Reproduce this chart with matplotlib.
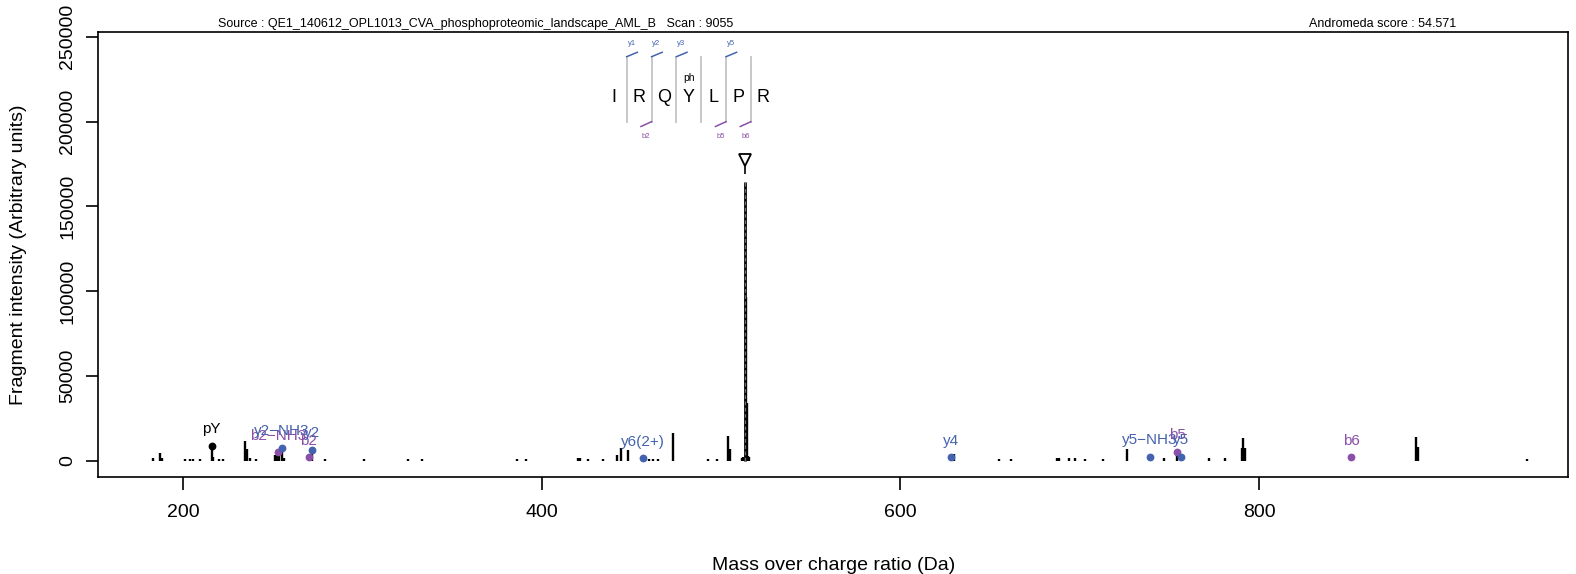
import matplotlib
matplotlib.use("Agg")
import matplotlib.pyplot as plt
from matplotlib.lines import Line2D

plt.rcParams['font.family'] = ['Liberation Sans', 'DejaVu Sans']

# pics non annotés (m/z, intensité)
peak_mz = [183.4, 187.2, 188.3, 201.1, 203.9, 205.7, 209.5, 216.9, 220.1, 222.5,
           234.6, 235.5, 237.4, 240.7, 251.3, 252.4, 253.5, 256.5, 279.2, 301.1,
           325.6, 333.1, 386.1, 391.1, 420.4, 421.4, 426.0, 434.0, 441.8, 444.1,
           448.3, 460.0, 461.9, 465.1, 473.4, 493.0, 498.0, 504.1, 505.0, 511.5,
           512.4, 513.8, 514.4, 515.2, 515.7, 629.9, 655.2, 661.5, 687.2, 688.5,
           694.2, 697.4, 703.0, 713.2, 726.3, 747.0, 772.3, 781.0, 790.4, 791.3,
           792.3, 887.6, 888.5, 949.3]
peak_int = [1500, 4500, 1500, 1200, 1200, 1000, 1200, 2000, 1200, 1200,
            11800, 7000, 1500, 1200, 3500, 3500, 3000, 1800, 1200, 1200,
            1200, 1200, 1200, 1200, 1300, 1300, 1200, 1200, 3500, 7500,
            6500, 1200, 1200, 1200, 16100, 1200, 1200, 14800, 7000, 1500,
            2000, 96700, 33800, 2500, 2000, 4000, 1200, 1200, 1500, 1500,
            1300, 1300, 1200, 1200, 6900, 1500, 1500, 1700, 7500, 13200,
            7500, 14200, 8000, 1200]

# ions annotés
ion_labels = ['pY', 'b2\u2212NH3', 'y2\u2212NH3', 'b2', 'y2', 'y6(2+)', 'y4',
              'y5\u2212NH3', 'b5', 'y5', 'b6']
ion_mz = [216.04, 253.17, 255.15, 270.19, 272.17, 456.73, 628.29,
          739.32, 754.37, 756.35, 851.42]
ion_int = [8800, 5000, 7700, 2000, 6300, 1400, 2000, 2400, 5300, 2400, 2000]
ion_kind = ['imm', 'b', 'y', 'b', 'y', 'y', 'y', 'y', 'b', 'y', 'b']

precursor_mz = 513.27
precursor_int = 164400

sequence = ['I', 'R', 'Q', 'Y', 'L', 'P', 'R']
y_marks = [1, 2, 3, 5]      # coupures marquées en haut
b_marks = [2, 5, 6]         # coupures marquées en bas
phospho_pos = 3

blue = '#4462AE'
purple = '#8A4FA8'
colors = {'imm': 'black', 'y': blue, 'b': purple}

W, H = 1576, 574
fig = plt.figure(figsize=(W / 100, H / 100), dpi=100)
ax = fig.add_axes([98.3 / W, 1 - 477.3 / H, (1568 - 98.3) / W, (477.3 - 32.3) / H])

ax.vlines(peak_mz, 0, peak_int, colors='black', lw=1.7)
ax.vlines(ion_mz, 0, ion_int, colors='black', lw=1.7)
for lab, mz, it, k in zip(ion_labels, ion_mz, ion_int, ion_kind):
    ax.plot(mz, it, 'o', ms=4.6, color=colors[k], zorder=3)
    ax.annotate(lab, (mz, it), xytext=(0, 12), textcoords='offset points',
                ha='center', va='center', fontsize=11, color=colors[k])

# précurseur
ax.vlines(precursor_mz, 0, precursor_int, colors='black', lw=2.0)
ax.vlines(precursor_mz, 0, precursor_int, colors='#707070', lw=0.9,
          linestyles=(0, (3, 2)))
ax.vlines(precursor_mz, precursor_int + 4500, precursor_int + 9500, colors='black', lw=1.2)
ax.plot(precursor_mz, precursor_int + 13000, 'v', ms=9, mfc='white', mec='black', mew=1.3)

ax.set_xlim(152.8, 972.3)
ax.set_ylim(-9800, 252600)
ax.set_xticks([200, 400, 600, 800])
ax.set_yticks([0, 50000, 100000, 150000, 200000, 250000])
ax.set_yticklabels(['0', '50000', '100000', '150000', '200000', '250000'],
                   rotation=90, va='center')
ax.tick_params(axis='both', labelsize=14, length=9, width=1.2)
ax.tick_params(axis='x', pad=10)
ax.tick_params(axis='y', pad=7)
for s in ax.spines.values():
    s.set_linewidth(1.2)
ax.set_xlabel('Mass over charge ratio (Da)', fontsize=14, labelpad=26)
ax.set_ylabel('Fragment intensity (Arbitrary units)', fontsize=14, labelpad=23)

fig.text(218 / W, 1 - 24 / H,
         'Source : QE1_140612_OPL1013_CVA_phosphoproteomic_landscape_AML_B   Scan : 9055',
         fontsize=9, ha='left', va='center')
fig.text(1309 / W, 1 - 24 / H, 'Andromeda score : 54.571',
         fontsize=9, ha='left', va='center')

# séquence du peptide
def px(x, y):
    return x / W, 1 - y / H

x0, step, yl = 614.3, 24.83, 97
for i, aa in enumerate(sequence):
    fx, fy = px(x0 + i * step, yl)
    fig.text(fx, fy, aa, fontsize=13, ha='center', va='center')
    if i == phospho_pos:
        fx, fy = px(x0 + i * step, 77.5)
        fig.text(fx, fy, 'ph', fontsize=7.5, ha='center', va='center')
for j in range(1, len(sequence)):
    xs = x0 + (j - 0.5) * step
    a, b = px(xs, 56.7), px(xs, 121.7)
    fig.add_artist(Line2D([a[0], b[0]], [a[1], b[1]], color='#c4c4c4', lw=1.3,
                          transform=fig.transFigure))
    if j in y_marks:
        a, b = px(xs, 56.7), px(xs + 10.6, 52.3)
        fig.add_artist(Line2D([a[0], b[0]], [a[1], b[1]], color=blue, lw=1.1,
                              transform=fig.transFigure))
        fx, fy = px(xs + 5, 43.3)
        fig.text(fx, fy, 'y%d' % j, fontsize=5.5, color=blue, ha='center', va='center')
    if j in b_marks:
        a, b = px(xs, 121.7), px(xs - 10.6, 126.5)
        fig.add_artist(Line2D([a[0], b[0]], [a[1], b[1]], color=purple, lw=1.1,
                              transform=fig.transFigure))
        fx, fy = px(xs - 5.5, 136.7)
        fig.text(fx, fy, 'b%d' % j, fontsize=5.5, color=purple, ha='center', va='center')

fig.savefig('out.png', dpi=100)
